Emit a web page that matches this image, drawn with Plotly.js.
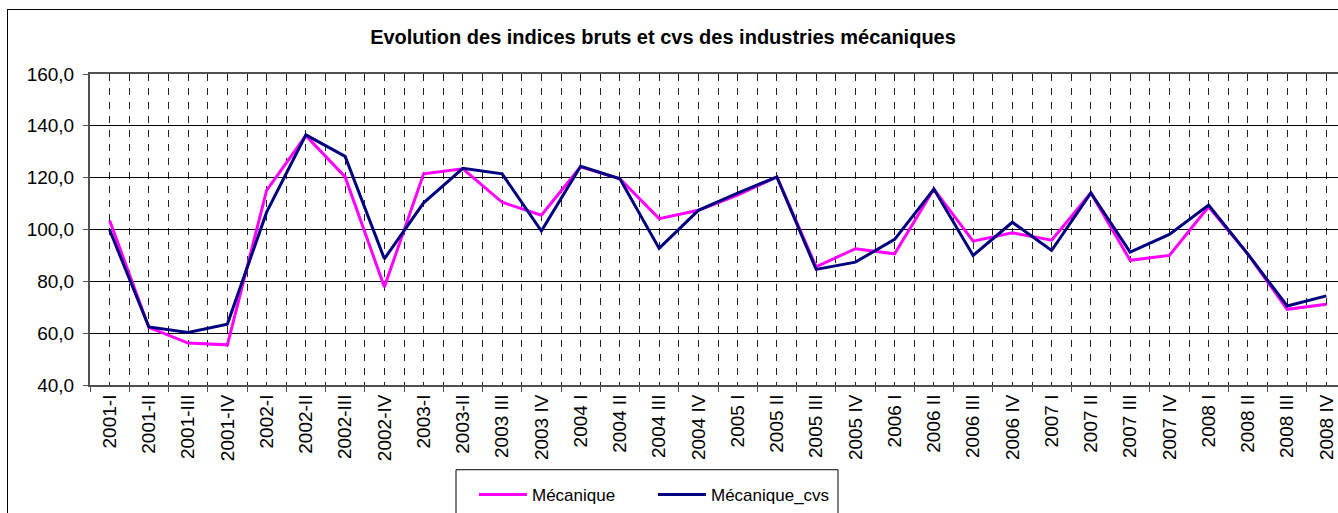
<!DOCTYPE html>
<html>
<head>
<meta charset="utf-8">
<script src="https://cdn.plot.ly/plotly-3.0.1.min.js"></script>
<style>
html, body { margin:0; padding:0; overflow:hidden; background:#fff; width:1338px; height:513px; }
#chart { position:absolute; left:0; top:0; width:1346px; height:513px; }
#frame { position:absolute; left:7px; top:9px; width:1400px; height:600px; border:1px solid #000; pointer-events:none; }
</style>
</head>
<body>
<div id="chart"></div>
<div id="frame"></div>
<script>
const categories = ['2001-I','2001-II','2001-III','2001-IV','2002-I','2002-II','2002-III','2002-IV',
  '2003-I','2003-II','2003 III','2003 IV','2004 I','2004 II','2004 III','2004 IV',
  '2005 I','2005 II','2005 III','2005 IV','2006 I','2006 II','2006 III','2006 IV',
  '2007 I','2007 II','2007 III','2007 IV','2008 I','2008 II','2008 III','2008 IV'];

const mecanique = [103.5, 62.2, 56.2, 55.5, 115.1, 136.2, 120.3, 77.8,
  121.5, 123.4, 110.5, 105.5, 124.2, 119.6, 104.2, 107.4,
  113.3, 120.3, 85.6, 92.6, 90.6, 115.6, 95.5, 98.7,
  95.9, 114.1, 88.1, 90.0, 108.8, 90.5, 69.2, 71.2];

const mecaniqueCvs = [99.8, 62.4, 60.3, 63.5, 106.7, 136.5, 128.2, 88.7,
  110.3, 123.6, 121.5, 99.4, 124.4, 119.6, 92.7, 107.4,
  114.0, 120.3, 84.6, 87.4, 96.2, 115.6, 90.0, 102.8,
  91.9, 114.1, 91.3, 98.1, 109.4, 90.5, 70.5, 74.4];

const seriesNames = ['Mécanique', 'Mécanique_cvs'];
const yTicks = [40, 60, 80, 100, 120, 140, 160];

const xIdx = categories.map((c, i) => i);
const FONT = 'Liberation Sans, Arial, sans-serif';

const traces = [
  { x: xIdx, y: mecanique, name: seriesNames[0], type: 'scatter', mode: 'lines',
    line: { color: '#FF00FF', width: 3 } },
  { x: xIdx, y: mecaniqueCvs, name: seriesNames[1], type: 'scatter', mode: 'lines',
    line: { color: '#000080', width: 3 } }
];

const layout = {
  width: 1346, height: 513,
  margin: { l: 90, r: 0, t: 74, b: 127 },
  paper_bgcolor: '#fff', plot_bgcolor: '#fff',
  separators: ', ',
  font: { family: FONT, color: '#000' },
  title: { text: 'Evolution des indices bruts et cvs des industries mécaniques',
    font: { family: FONT, size: 20, weight: 'bold', color: '#000' },
    xref: 'container', x: 663 / 1346, xanchor: 'center',
    yref: 'container', y: 1 - 37 / 513, yanchor: 'middle' },
  xaxis: {
    type: 'linear', range: [-0.5, categories.length - 0.5],
    tickmode: 'array', tickvals: xIdx, ticktext: categories,
    tickangle: -90, tickfont: { family: FONT, size: 19, color: '#000' },
    ticks: '', showgrid: true, gridcolor: '#222', gridwidth: 1, griddash: '7px,7px',
    showline: true, linecolor: '#505050', linewidth: 2, mirror: true,
    zeroline: false, fixedrange: true,
    minor: { tickmode: 'linear', tick0: -0.5, dtick: 1, ticks: 'outside', ticklen: 5,
      tickcolor: '#505050', tickwidth: 1, showgrid: true, gridcolor: '#222', gridwidth: 1, griddash: '7px,7px' }
  },
  yaxis: {
    range: [40, 160], tickmode: 'array', tickvals: yTicks, tickformat: '.1f',
    tickfont: { family: FONT, size: 19, color: '#000' },
    ticks: 'outside', ticklen: 5, tickcolor: '#505050', ticklabelstandoff: 5,
    showgrid: true, gridcolor: '#000', gridwidth: 1,
    showline: true, linecolor: '#505050', linewidth: 2,
    zeroline: false, fixedrange: true
  },
  showlegend: true,
  legend: {
    orientation: 'h', x: (474 - 90) / 1256, xanchor: 'left',
    y: (386 - 478) / 312, yanchor: 'top',
    font: { family: FONT, size: 17, color: '#000' },
    bgcolor: 'rgba(0,0,0,0)', borderwidth: 0,
    itemwidth: 48, entrywidth: 116, entrywidthmode: 'pixels',
    traceorder: 'normal'
  },
  shapes: [
    { type: 'rect', xref: 'paper', yref: 'paper', layer: 'above',
      x0: (456 - 90) / 1256, x1: (838 - 90) / 1256,
      y0: (386 - 471) / 312, y1: (386 - 560) / 312,
      line: { color: '#000', width: 1 }, fillcolor: 'rgba(0,0,0,0)' }
  ]
};

Plotly.newPlot('chart', traces, layout, { displayModeBar: false, staticPlot: true });
</script>
</body>
</html>
